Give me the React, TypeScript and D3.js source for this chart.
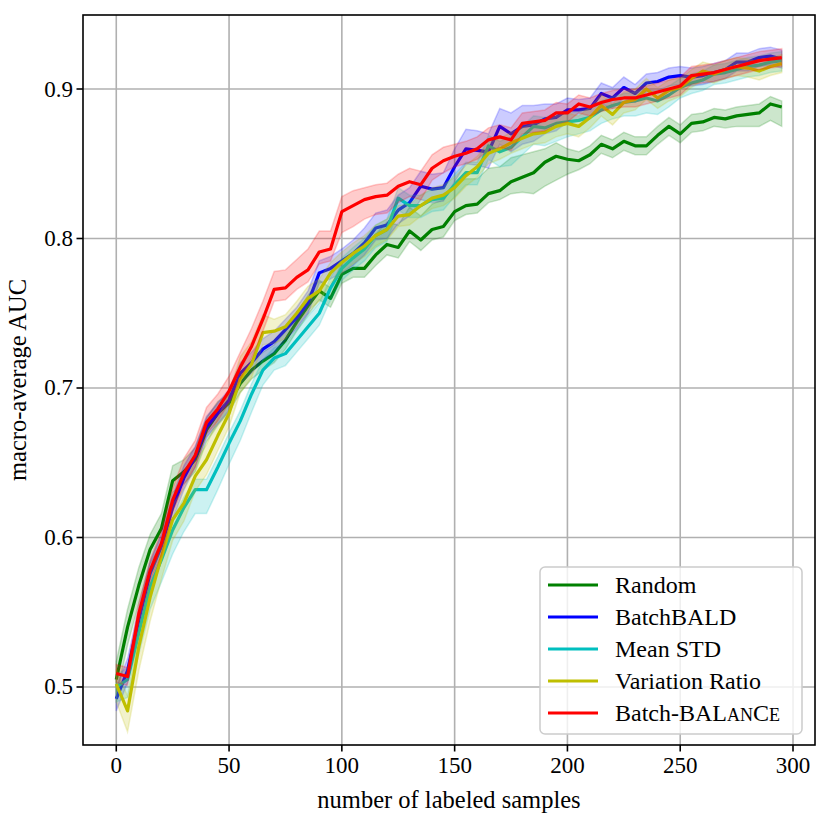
import React from 'react';
import * as d3 from 'd3';

// number of labeled samples (x positions of every point)
const samples = [
  0, 5, 10, 15, 20, 25, 30, 35, 40, 45, 50, 55, 60, 65, 70, 75, 80, 85, 90, 95,
  100, 105, 110, 115, 120, 125, 130, 135, 140, 145, 150, 155, 160, 165, 170, 175, 180, 185, 190, 195,
  200, 205, 210, 215, 220, 225, 230, 235, 240, 245, 250, 255, 260, 265, 270, 275, 280, 285, 290, 295,
];

const random = [
  0.505, 0.540, 0.568, 0.592, 0.606, 0.638, 0.644, 0.652, 0.672, 0.683,
  0.690, 0.703, 0.712, 0.718, 0.723, 0.732, 0.744, 0.755, 0.765, 0.760,
  0.776, 0.780, 0.780, 0.789, 0.796, 0.794, 0.805, 0.799, 0.806, 0.808,
  0.818, 0.822, 0.823, 0.830, 0.832, 0.838, 0.841, 0.844, 0.851, 0.855,
  0.853, 0.852, 0.856, 0.863, 0.860, 0.865, 0.862, 0.862, 0.869, 0.875,
  0.870, 0.877, 0.878, 0.881, 0.880, 0.882, 0.883, 0.884, 0.890, 0.888,
];
const batchBald = [
  0.492, 0.511, 0.545, 0.576, 0.594, 0.620, 0.640, 0.654, 0.674, 0.683,
  0.692, 0.710, 0.717, 0.726, 0.731, 0.739, 0.747, 0.757, 0.777, 0.780,
  0.785, 0.790, 0.797, 0.807, 0.809, 0.819, 0.824, 0.835, 0.833, 0.834,
  0.848, 0.860, 0.859, 0.858, 0.875, 0.870, 0.875, 0.876, 0.880, 0.881,
  0.886, 0.886, 0.887, 0.897, 0.894, 0.901, 0.897, 0.904, 0.905, 0.908,
  0.909, 0.908, 0.909, 0.911, 0.913, 0.918, 0.918, 0.921, 0.922, 0.920,
];
const meanStd = [
  0.500, 0.505, 0.536, 0.567, 0.585, 0.605, 0.620, 0.632, 0.632, 0.647,
  0.663, 0.678, 0.696, 0.712, 0.720, 0.723, 0.732, 0.741, 0.750, 0.767,
  0.780, 0.787, 0.793, 0.802, 0.806, 0.827, 0.822, 0.822, 0.826, 0.827,
  0.836, 0.844, 0.844, 0.862, 0.858, 0.861, 0.868, 0.875, 0.874, 0.877,
  0.878, 0.879, 0.881, 0.886, 0.889, 0.891, 0.892, 0.894, 0.892, 0.896,
  0.901, 0.904, 0.906, 0.910, 0.911, 0.913, 0.915, 0.916, 0.918, 0.919,
];
const variationRatio = [
  0.502, 0.484, 0.527, 0.560, 0.587, 0.612, 0.623, 0.641, 0.652, 0.668,
  0.683, 0.706, 0.716, 0.737, 0.738, 0.741, 0.750, 0.760, 0.765, 0.777,
  0.784, 0.790, 0.795, 0.802, 0.806, 0.815, 0.816, 0.822, 0.827, 0.829,
  0.834, 0.842, 0.848, 0.857, 0.860, 0.864, 0.867, 0.870, 0.871, 0.875,
  0.877, 0.875, 0.881, 0.889, 0.883, 0.891, 0.893, 0.900, 0.894, 0.899,
  0.901, 0.907, 0.912, 0.910, 0.913, 0.915, 0.914, 0.912, 0.915, 0.917,
];
const batchBalance = [
  0.509, 0.507, 0.549, 0.578, 0.596, 0.625, 0.643, 0.655, 0.677, 0.686,
  0.698, 0.714, 0.728, 0.746, 0.766, 0.767, 0.774, 0.779, 0.791, 0.793,
  0.818, 0.822, 0.826, 0.828, 0.829, 0.835, 0.838, 0.836, 0.847, 0.852,
  0.855, 0.857, 0.860, 0.866, 0.868, 0.866, 0.877, 0.878, 0.879, 0.884,
  0.884, 0.890, 0.888, 0.891, 0.893, 0.894, 0.894, 0.896, 0.898, 0.900,
  0.902, 0.909, 0.910, 0.911, 0.913, 0.915, 0.917, 0.919, 0.920, 0.921,
];

// spread below / above each mean, in thousandths of AUC
const randomLo = [12,12,12,10,10,8,8,8,8,8, 6,6,6,6,6,6,6,6,6,6, 6,6,6,7,7,7,7,7,7,7, 6,6,6,6,6,8,10,14,16,16, 10,6,6,6,6,6,6,6,6,6, 6,6,6,6,6,7,8,9,11,13];
const randomHi = [12,12,12,10,10,10,8,8,8,8, 6,6,6,6,6,6,6,7,7,7, 8,10,12,14,15,15,16,16,17,18, 18,18,17,17,16,16,15,14,9,9, 7,6,6,6,6,6,6,6,6,6, 6,6,6,6,6,6,6,6,5,4];
const batchBaldLo = [8,8,8,8,8,8,8,7,7,7, 7,7,7,7,7,7,7,7,7,7, 8,8,8,8,9,9,9,9,9,9, 10,10,10,11,12,12,12,11,10,9, 8,7,7,7,7,7,6,6,6,6, 6,6,6,6,6,6,6,6,6,6];
const batchBaldHi = [8,8,8,8,8,8,8,7,7,7, 7,7,7,7,7,7,7,8,8,8, 8,9,10,10,10,10,10,10,10,10, 12,13,13,12,12,14,14,13,10,9, 8,7,7,7,7,7,6,6,6,6, 6,6,6,6,6,6,6,6,6,6];
const meanStdLo = [10,12,14,15,15,16,16,16,16,15, 14,13,12,10,8,8,8,8,8,8, 8,8,8,8,8,8,8,8,8,8, 8,8,8,9,10,12,12,12,12,12, 10,9,9,9,9,9,10,10,9,8, 7,7,7,7,7,7,7,7,7,7];
const meanStdHi = [8,8,8,8,8,7,7,7,7,7, 7,7,7,7,7,7,7,7,7,7, 7,7,7,7,7,7,7,7,7,7, 7,7,7,7,7,7,7,7,7,7, 6,6,6,6,6,6,6,6,6,6, 6,6,6,6,6,6,6,6,6,6];
const variationRatioLo = [12,14,16,16,15,14,12,10,10,10, 9,9,9,8,8,8,8,8,7,7, 7,7,7,7,7,7,7,7,7,7, 7,7,7,7,7,7,7,7,7,7, 7,7,7,7,7,7,7,7,7,7, 6,6,6,6,6,6,6,6,6,6];
const variationRatioHi = [10,10,10,10,10,10,10,10,10,12, 14,15,15,12,8,8,8,8,8,7, 7,7,7,7,7,7,7,7,7,7, 7,7,7,7,7,7,7,7,7,7, 7,7,7,7,7,7,7,7,7,7, 6,6,6,6,6,6,6,6,6,6];
const batchBalanceLo = [6,6,7,7,8,8,8,8,8,8, 8,8,8,8,8,8,8,8,8,8, 14,14,13,12,12,11,10,10,8,8, 7,7,7,7,7,7,7,7,7,7, 6,6,6,6,6,6,6,6,6,6, 6,6,6,6,6,6,6,6,6,6];
const batchBalanceHi = [6,6,7,7,8,8,10,10,10,10, 10,10,12,12,12,12,12,14,14,12, 10,10,8,8,8,8,9,9,9,9, 8,8,8,8,8,8,7,7,7,7, 6,6,6,6,6,6,6,6,6,6, 6,6,6,6,6,6,6,6,6,6];

const xTicks = [0, 50, 100, 150, 200, 250, 300];
const yTicks = [0.5, 0.6, 0.7, 0.8, 0.9];

const series = [
  { name: 'Random', color: '#008000', mean: random, lo: randomLo, hi: randomHi },
  { name: 'BatchBALD', color: '#0000ff', mean: batchBald, lo: batchBaldLo, hi: batchBaldHi },
  { name: 'Mean STD', color: '#00bfbf', mean: meanStd, lo: meanStdLo, hi: meanStdHi },
  { name: 'Variation Ratio', color: '#bfbf00', mean: variationRatio, lo: variationRatioLo, hi: variationRatioHi },
  { name: 'Batch-BALANCE', color: '#ff0000', mean: batchBalance, lo: batchBalanceLo, hi: batchBalanceHi },
];

const W = 830;
const H = 830;
const left = 83, right = 815, top = 15, bottom = 745;
const FONT = "'Liberation Serif', 'DejaVu Serif', serif";

export default function App() {
  const x = d3.scaleLinear().domain([-14.75, 309.75]).range([left, right]);
  const y = d3.scaleLinear().domain([0.4612, 0.9495]).range([bottom, top]);

  const line = d3.line<number>()
    .x((_, i) => x(samples[i]))
    .y(d => y(d));

  const band = (s: typeof series[number]) =>
    d3.area<number>()
      .x((_, i) => x(samples[i]))
      .y0((d, i) => y(d - s.lo[i] / 1000))
      .y1((d, i) => y(d + s.hi[i] / 1000))(s.mean) ?? '';

  const legendX = 540, legendY = 567, rowH = 32;

  return (
    <svg width={W} height={H} style={{ position: 'absolute', left: 0, top: 0, background: '#fff', fontFamily: FONT }}>
      <defs>
        <clipPath id="plot">
          <rect x={left} y={top} width={right - left} height={bottom - top} />
        </clipPath>
      </defs>
      <rect width={W} height={H} fill="#fff" />

      {/* grid */}
      <g stroke="#b0b0b0" strokeWidth={1.6}>
        {xTicks.map(t => (
          <line key={'gx' + t} x1={x(t)} x2={x(t)} y1={top} y2={bottom} />
        ))}
        {yTicks.map(t => (
          <line key={'gy' + t} x1={left} x2={right} y1={y(t)} y2={y(t)} />
        ))}
      </g>

      {/* bands and mean lines */}
      <g clipPath="url(#plot)">
        {series.map(s => (
          <g key={s.name}>
            <path d={band(s)} fill={s.color} fillOpacity={0.2} stroke={s.color} strokeOpacity={0.2} strokeWidth={1.5} />
            <path d={line(s.mean) ?? ''} fill="none" stroke={s.color} strokeWidth={3.2} strokeLinejoin="round" />
          </g>
        ))}
      </g>

      {/* frame */}
      <rect x={left} y={top} width={right - left} height={bottom - top} fill="none" stroke="#000" strokeWidth={1.6} />

      {/* x axis */}
      <g style={{ fontSize: 23 }} textAnchor="middle">
        {xTicks.map(t => (
          <g key={'tx' + t}>
            <line x1={x(t)} x2={x(t)} y1={bottom} y2={bottom + 6.5} stroke="#000" strokeWidth={1.6} />
            <text x={x(t)} y={bottom + 28}>{t}</text>
          </g>
        ))}
      </g>
      <text x={(left + right) / 2} y={808} style={{ fontSize: 24.5 }} textAnchor="middle">number of labeled samples</text>

      {/* y axis */}
      <g style={{ fontSize: 23 }} textAnchor="end">
        {yTicks.map(t => (
          <g key={'ty' + t}>
            <line x1={left - 6.5} x2={left} y1={y(t)} y2={y(t)} stroke="#000" strokeWidth={1.6} />
            <text x={left - 10} y={y(t) + 7.5}>{d3.format('.1f')(t)}</text>
          </g>
        ))}
      </g>
      <text transform={`translate(26,${(top + bottom) / 2}) rotate(-90)`} style={{ fontSize: 24.5 }} textAnchor="middle">
        macro-average AUC
      </text>

      {/* legend */}
      <rect x={legendX} y={legendY} width={262} height={167} rx={5} fill="#fff" fillOpacity={0.8}
        stroke="#cccccc" strokeWidth={1.5} />
      {series.map((s, i) => {
        const cy = legendY + 18 + i * rowH;
        return (
          <g key={'lg' + s.name}>
            <line x1={legendX + 8} x2={legendX + 58} y1={cy} y2={cy} stroke={s.color} strokeWidth={3.2} />
            <text x={legendX + 75} y={cy + 8} style={{ fontSize: 24 }}>
              {i === 4 ? (
                <>
                  <tspan>Batch-BAL</tspan>
                  <tspan style={{ fontSize: 18 }}>AN</tspan>
                  <tspan>C</tspan>
                  <tspan style={{ fontSize: 18 }}>E</tspan>
                </>
              ) : s.name}
            </text>
          </g>
        );
      })}
    </svg>
  );
}
